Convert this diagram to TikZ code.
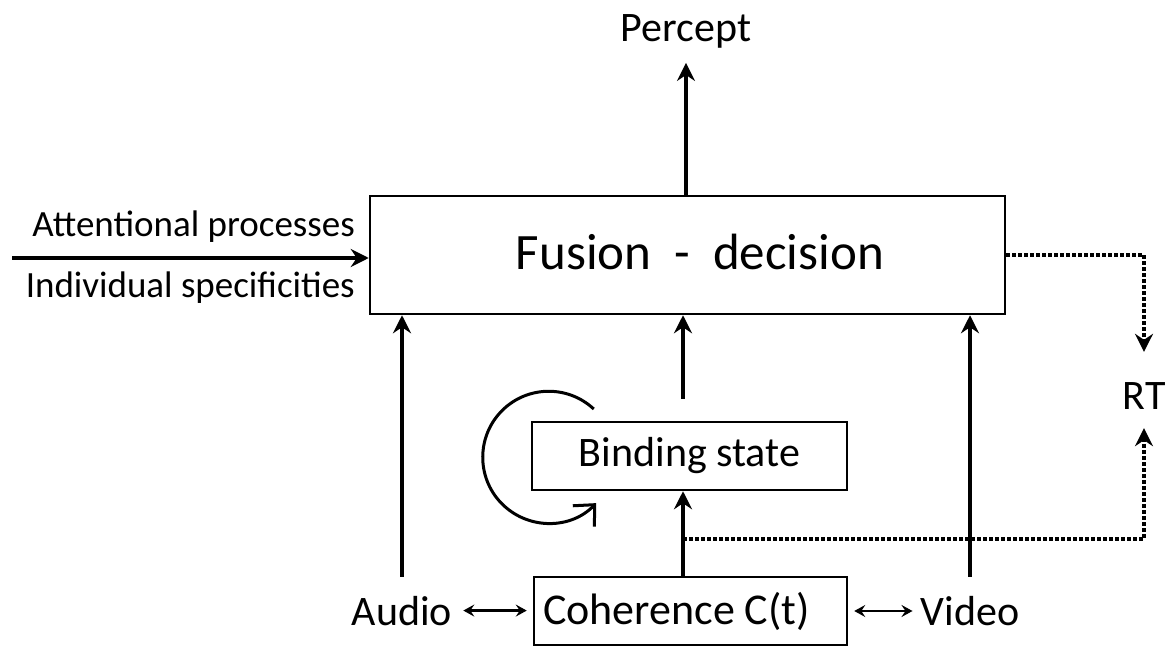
\documentclass[tikz,border=0pt]{standalone}
\usepackage{fontspec}
\setmainfont{Carlito}
\usepackage{tikz}
\usetikzlibrary{arrows.meta}
\tikzstyle{arrow} = [line width=3.5pt,-{Stealth[length=18pt,width=18pt,inset=6pt]}]
\tikzstyle{dotarrow} = [line width=3.5pt,dash pattern=on 3.5pt off 2.5pt,-{Stealth[length=18pt,width=18pt,inset=6pt]}]
\tikzstyle{dblarrow} = [line width=2.5pt,{Stealth[length=11pt,width=12pt,inset=4pt]}-{Stealth[length=11pt,width=12pt,inset=4pt]}]
\tikzstyle{looparrow} = [line width=3pt,-{Straight Barb[length=16pt,width=30pt]}]

\begin{document}
\begin{tikzpicture}[
            x=1pt, y=1pt,
            box/.style={draw, line width=2.5pt},
            lbl/.style={font=\fontsize{42}{50}\selectfont, inner sep=3pt},
            sidelbl/.style={font=\fontsize{37}{44}\selectfont, inner sep=0pt, anchor=base east}
        ]
            \useasboundingbox (0,0) rectangle (1171,646);

            % boxes
            \node[box, minimum width=635pt, minimum height=118pt] (fusion) at (687.5,391) {};
            \node[anchor=base, font=\fontsize{51}{60}\selectfont] (fusiontxt) at (700,376) {Fusion\ \ -\ \ decision};
            \node[box, lbl, minimum width=315pt, minimum height=68pt] (binding) at (689.5,190) {Binding state};
            \node[box, lbl, inner sep=9pt, minimum height=68pt] (coherence) at (690.5,35) {\makebox[295pt][l]{\fontsize{44}{50}\selectfont Coherence C(t)}};

            % labels
            \node[lbl, anchor=base] (percept) at (686,604) {Percept};
            \node[lbl, anchor=base] (audio) at (402,21) {Audio};
            \node[lbl, anchor=base] (video) at (970,21) {Video};
            \node[lbl, anchor=base] (rt) at (1144,236) {RT};
            \node[sidelbl] (attn) at (355,409) {Attentional processes};
            \node[sidelbl] (indiv) at (355,348) {Individual specificities};

            \coordinate (attin) at (12,388);
            \coordinate (tap) at (683,107);

            % solid arrows
            \draw[arrow] (attin) -- (attin -| fusion.west);
            \draw[arrow, shorten >=11pt] (fusion.north -| percept.south) -- (percept.south);
            \draw[arrow, shorten <=16pt] (audio.north) -- (audio.north |- fusion.south);
            \draw[arrow, shorten <=16pt] (video.north) -- (video.north |- fusion.south);
            \draw[arrow, shorten <=22pt] (binding.north -| tap) -- (fusion.south -| tap);
            \draw[arrow] (coherence.north -| tap) -- (binding.south -| tap);
            \draw[dblarrow, shorten <=8pt, shorten >=6pt] (audio.east) -- (audio.east -| coherence.west);
            \draw[dblarrow, shorten <=6pt, shorten >=5pt] (coherence.east) -- (coherence.east -| video.west);

            % dotted arrows to RT
            \draw[dotarrow, shorten >=28pt] (fusion.east) -| (rt.north);
            \draw[dotarrow, shorten >=15pt] (tap) -| (rt.south);

            % loop on binding state
            \draw[looparrow] ([shift={(63,47)}]binding.west) arc[start angle=47, end angle=316, radius=66];
        \end{tikzpicture}
\end{document}
